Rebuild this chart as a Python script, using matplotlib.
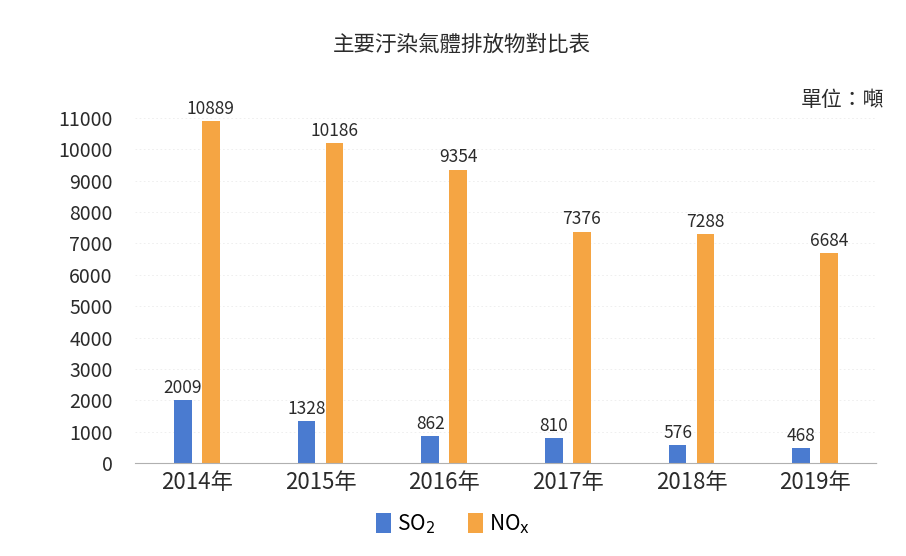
import numpy as np
import matplotlib
matplotlib.use("Agg")
import matplotlib.pyplot as plt

plt.rcParams['font.family'] = ['Noto Sans CJK TC', 'DejaVu Sans']

years = ["2014年", "2015年", "2016年", "2017年", "2018年", "2019年"]
so2 = [2009, 1328, 862, 810, 576, 468]
nox = [10889, 10186, 9354, 7376, 7288, 6684]
yticks = list(range(0, 11001, 1000))

blue = "#4a7bd0"
orange = "#f5a543"
txt = "#2b2b2b"

fig = plt.figure(figsize=(9.06, 5.56), dpi=100)
ax = fig.add_axes([0.149, 0.167, 0.819, 0.621])

x = np.arange(len(years))
w = 0.145
off = 0.113
b1 = ax.bar(x - off, so2, w, color=blue, label="SO$_2$")
b2 = ax.bar(x + off, nox, w, color=orange, label=r"NO$_\mathrm{x}$")

for rect, v in zip(b1, so2):
    ax.text(rect.get_x() + rect.get_width() / 2, v + 100, str(v),
            ha="center", va="bottom", fontsize=12.5, color=txt)
for rect, v in zip(b2, nox):
    ax.text(rect.get_x() + rect.get_width() / 2, v + 100, str(v),
            ha="center", va="bottom", fontsize=12.5, color=txt)

ax.set_xlim(-0.5, len(years) - 0.5)
ax.set_ylim(0, 11000)
ax.set_yticks(yticks)
ax.set_xticks(x)
ax.set_xticklabels(years)
ax.tick_params(axis="y", length=0, labelsize=14, labelcolor=txt, pad=16)
ax.tick_params(axis="x", length=0, labelsize=16, labelcolor=txt, pad=6)
ax.grid(axis="y", color="#ececec", linewidth=0.6, linestyle=(0, (2, 3)))
ax.set_axisbelow(True)
for s in ["top", "right", "left"]:
    ax.spines[s].set_visible(False)
ax.spines["bottom"].set_color("#b0b0b0")
ax.spines["bottom"].set_linestyle((0, (1, 1)))

fig.text(0.51, 0.919, "主要汙染氣體排放物對比表", ha="center", va="center",
         fontsize=15.5, color=txt)
fig.text(0.976, 0.82, "單位：噸", ha="right", va="center",
         fontsize=15, color=txt)

fig.legend(handles=[b1, b2], loc="center", bbox_to_anchor=(0.5, 0.058),
           ncol=2, frameon=False, fontsize=15, handlelength=0.7,
           handleheight=1.1, columnspacing=1.6, handletextpad=0.3)

fig.savefig("out.png", dpi=100)
